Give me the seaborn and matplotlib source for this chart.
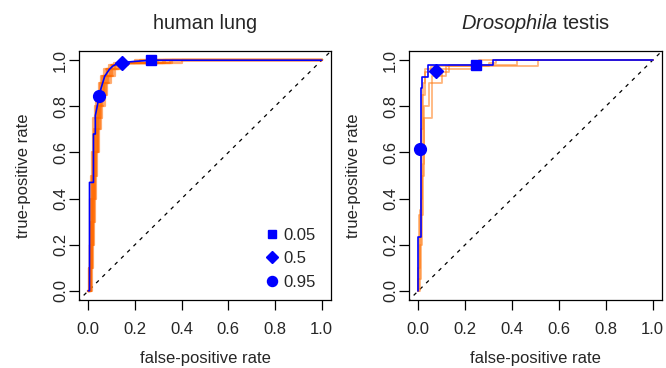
import matplotlib
matplotlib.use("Agg")
import matplotlib.pyplot as plt
import seaborn as sns

# ---- data ----
# human lung: resampled ROC curves (orange), step corners (fpr, tpr)
lung_tpr_levels = [0, 0.1, 0.2, 0.3, 0.4, 0.5, 0.6, 0.7, 0.75, 0.8, 0.85, 0.9, 0.93, 0.96,
                   0.98, 0.99, 1.0, 1.0]
lung_orange_fpr = [
    [0, 0.004, 0.007, 0.010, 0.012, 0.015, 0.019, 0.024, 0.028, 0.033, 0.040, 0.050, 0.060, 0.075, 0.095, 0.120, 0.20, 1],
    [0, 0.007, 0.011, 0.014, 0.017, 0.021, 0.026, 0.032, 0.037, 0.043, 0.050, 0.062, 0.072, 0.088, 0.110, 0.140, 0.28, 1],
    [0, 0.010, 0.014, 0.018, 0.021, 0.025, 0.030, 0.037, 0.042, 0.048, 0.056, 0.068, 0.080, 0.095, 0.120, 0.150, 0.33, 1],
    [0, 0.012, 0.017, 0.021, 0.025, 0.029, 0.034, 0.042, 0.048, 0.055, 0.064, 0.076, 0.088, 0.105, 0.130, 0.160, 0.36, 1],
    [0, 0.003, 0.005, 0.007, 0.009, 0.011, 0.014, 0.019, 0.022, 0.027, 0.034, 0.044, 0.054, 0.068, 0.088, 0.110, 0.25, 1],
    [0, 0.014, 0.019, 0.024, 0.028, 0.033, 0.038, 0.046, 0.053, 0.060, 0.070, 0.082, 0.095, 0.115, 0.140, 0.170, 0.40, 1],
    [0, 0.006, 0.009, 0.012, 0.015, 0.018, 0.023, 0.029, 0.034, 0.040, 0.047, 0.058, 0.068, 0.082, 0.102, 0.130, 0.30, 1],
    [0, 0.009, 0.013, 0.016, 0.019, 0.023, 0.028, 0.035, 0.040, 0.046, 0.054, 0.066, 0.077, 0.092, 0.115, 0.145, 0.32, 1],
    [0, 0.005, 0.008, 0.011, 0.014, 0.017, 0.021, 0.027, 0.031, 0.036, 0.043, 0.054, 0.064, 0.080, 0.100, 0.125, 0.22, 1],
    [0, 0.011, 0.016, 0.019, 0.023, 0.027, 0.032, 0.040, 0.045, 0.052, 0.060, 0.072, 0.084, 0.100, 0.125, 0.155, 0.35, 1],
]
# human lung: observed ROC curve (blue), path vertices
lung_blue_fpr = [0, 0.005, 0.005, 0.022, 0.022, 0.03, 0.03, 0.038, 0.046, 0.055, 0.07, 0.09,
                 0.105, 0.125, 0.145, 0.2, 0.27, 0.4, 1.0]
lung_blue_tpr = [0, 0, 0.47, 0.47, 0.68, 0.68, 0.76, 0.80, 0.845, 0.88, 0.93, 0.96,
                 0.975, 0.985, 0.99, 0.995, 1.0, 1.0, 1.0]
# threshold markers 0.05 / 0.5 / 0.95
lung_mark_fpr = [0.27, 0.145, 0.046]
lung_mark_tpr = [1.0, 0.99, 0.845]

# Drosophila testis: resampled ROC curves (orange), step corners
testis_orange_fpr = [
    [0, 0.003, 0.020, 0.022, 0.045, 0.100, 0.130, 0.42, 1.0],
    [0, 0.000, 0.005, 0.012, 0.020, 0.030, 0.250, 0.26, 1.0],
    [0, 0.008, 0.015, 0.025, 0.060, 0.120, 0.510, 1.0],
    [0, 0.000, 0.010, 0.016, 0.030, 0.055, 0.300, 0.33, 1.0],
]
testis_orange_tpr = [
    [0, 0.33, 0.55, 0.80, 0.90, 0.948, 0.978, 1.0, 1.0],
    [0, 0.10, 0.35, 0.70, 0.90, 0.960, 0.985, 1.0, 1.0],
    [0, 0.20, 0.50, 0.75, 0.93, 0.975, 1.0, 1.0],
    [0, 0.05, 0.40, 0.85, 0.95, 0.975, 0.990, 1.0, 1.0],
]
testis_blue_fpr = [0, 0, 0.01, 0.01, 0.015, 0.015, 0.04, 0.04, 0.32, 0.32, 1.0]
testis_blue_tpr = [0, 0.235, 0.235, 0.88, 0.88, 0.927, 0.927, 0.978, 0.978, 1.0, 1.0]
testis_mark_fpr = [0.245, 0.074, 0.007]
testis_mark_tpr = [0.978, 0.953, 0.613]

thresholds = ["0.05", "0.5", "0.95"]
markers = ["s", "D", "o"]
marker_sizes = [7.5, 7.5, 8.5]

sns.set_style("ticks")
plt.rcParams["font.family"] = ["Liberation Sans", "DejaVu Sans"]
plt.rcParams["mathtext.fontset"] = "custom"
plt.rcParams["mathtext.it"] = "Liberation Sans:italic"
plt.rcParams["mathtext.rm"] = "Liberation Sans"

fig = plt.figure(figsize=(6.66, 3.68), dpi=100)
ax1 = fig.add_axes([79 / 666, 68 / 368, 252 / 666, 249 / 368])
ax2 = fig.add_axes([409 / 666, 68 / 368, 253 / 666, 249 / 368])

BLUE = "#0000FF"


def draw_panel(ax, orange_fpr, orange_tpr, blue_fpr, blue_tpr, mark_fpr, mark_tpr,
               ocolor, alpha, olw):
    # diagonal reference line
    ax.plot([-0.1, 1.1], [-0.1, 1.1], color="black", lw=0.9, ls=(0, (3, 4)))
    for fx, ty in zip(orange_fpr, orange_tpr):
        sns.lineplot(x=fx, y=ty, ax=ax, sort=False, estimator=None, color=ocolor,
                     alpha=alpha, lw=olw, drawstyle="steps-post")
    sns.lineplot(x=blue_fpr, y=blue_tpr, ax=ax, sort=False, estimator=None,
                 color=BLUE, lw=1.2)
    for fx, ty, m, ms in zip(mark_fpr, mark_tpr, markers, marker_sizes):
        ax.plot(fx, ty, marker=m, ms=ms, color=BLUE, ls="none", zorder=5)
    ax.set_xlim(-0.04, 1.04)
    ax.set_ylim(-0.04, 1.04)
    ticks = [0, 0.2, 0.4, 0.6, 0.8, 1.0]
    ax.set_xticks(ticks)
    ax.set_yticks(ticks)
    ax.set_xticklabels([f"{t:.1f}" for t in ticks], fontsize=12)
    ax.set_yticklabels([f"{t:.1f}" for t in ticks], fontsize=12, rotation=90, va="center")
    ax.tick_params(axis="both", direction="out", length=7, width=0.9, color="black")
    ax.tick_params(axis="x", pad=9)
    ax.tick_params(axis="y", pad=1)
    for s in ax.spines.values():
        s.set_visible(True)
        s.set_color("black")
        s.set_linewidth(0.9)
    ax.set_xlabel("false-positive rate", fontsize=12, labelpad=10)
    ax.set_ylabel("true-positive rate", fontsize=12, labelpad=16)


lung_orange_tpr = [lung_tpr_levels] * len(lung_orange_fpr)
draw_panel(ax1, lung_orange_fpr, lung_orange_tpr, lung_blue_fpr, lung_blue_tpr,
           lung_mark_fpr, lung_mark_tpr, "#FF6A00", 0.55, 1.6)
draw_panel(ax2, testis_orange_fpr, testis_orange_tpr, testis_blue_fpr, testis_blue_tpr,
           testis_mark_fpr, testis_mark_tpr, "#FF7A10", 0.55, 1.3)

ax1.set_title("human lung", fontsize=14.4, pad=16)
ax2.set_title(r"$\it{Drosophila}$ testis", fontsize=14.4, pad=16)

# threshold legend (left panel)
handles = [plt.Line2D([], [], marker=m, ms=ms * 0.85, color=BLUE, ls="none")
           for m, ms in zip(markers, marker_sizes)]
ax1.legend(handles, thresholds, loc="lower right", frameon=False, fontsize=12,
           handlelength=0.8, handletextpad=0.3, labelspacing=0.5,
           bbox_to_anchor=(0.985, -0.005), borderaxespad=0.3)

fig.savefig("out.png", dpi=100)
